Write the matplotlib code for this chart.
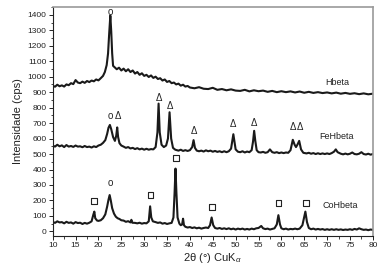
import matplotlib
matplotlib.use("Agg")
import matplotlib.pyplot as plt
from matplotlib.ticker import MultipleLocator

plt.rcParams['font.family'] = ['Liberation Sans', 'DejaVu Sans']
plt.rcParams['mathtext.fontset'] = 'custom'
plt.rcParams['mathtext.rm'] = 'Liberation Sans'
plt.rcParams['mathtext.it'] = 'Liberation Sans:italic'

# ---- data (2theta, intensity) ----
hbeta_x = [10, 10.5, 11, 11.5, 12, 12.5, 13, 13.5, 14, 14.5, 15, 15.5, 16, 16.5, 17, 17.5, 18, 18.5, 19, 19.5,
           20, 20.5, 21, 21.4, 21.8, 22.1, 22.35, 22.6, 22.8, 23.0, 23.2, 23.5, 24, 24.5, 25, 25.5, 26, 26.5,
           27, 27.5, 28, 28.5, 29, 29.5, 30, 30.5, 31, 31.5, 32, 32.5, 33, 33.5, 34, 34.5, 35, 35.5, 36, 36.5,
           37, 37.5, 38, 38.5, 39, 39.5, 40, 41, 42, 43, 44, 45, 46, 47, 48, 49, 50, 51, 52, 53, 54, 55, 56,
           57, 58, 59, 60, 61, 62, 63, 64, 65, 66, 67, 68, 69, 70, 71, 72, 73, 74, 75, 76, 77, 78, 79, 80]
hbeta_y = [942, 935, 948, 938, 944, 936, 950, 945, 958, 952, 978, 962, 958, 968, 960, 972, 965, 975, 970, 982,
           976, 990, 1005, 1030, 1075, 1150, 1280, 1395, 1290, 1150, 1070, 1062, 1048, 1058, 1040, 1052, 1035, 1048,
           1030, 1040, 1020, 1030, 1012, 1022, 1005, 1012, 998, 1008, 992, 1000, 985, 990, 975, 982, 966, 972, 958, 962,
           950, 955, 942, 948, 936, 940, 930, 925, 932, 922, 920, 928, 915, 920, 912, 918, 910, 908, 915, 905, 912, 906, 910,
           902, 908, 900, 906, 900, 905, 898, 904, 896, 902, 895, 900, 894, 898, 892, 897, 890, 895, 889, 893, 887, 892, 886, 890]

fe_x = [10, 10.5, 11, 11.5, 12, 12.5, 13, 13.5, 14, 14.5, 15, 15.5, 16, 16.5, 17, 17.5, 18, 18.5, 19, 19.5,
        20, 20.5, 21, 21.5, 21.9, 22.2, 22.5, 22.8, 23.2, 23.6, 23.9, 24.1, 24.3, 24.6, 25, 25.5, 26, 26.5, 27, 27.5,
        28, 28.5, 29, 29.5, 30, 30.5, 31, 31.5, 32, 32.5, 32.9, 33.15, 33.4, 33.8, 34.3, 34.8, 35.2, 35.55, 35.9, 36.3,
        36.8, 37.5, 38, 38.5, 39, 39.5, 40, 40.5, 40.8, 41.1, 41.5, 42, 42.5, 43, 43.5, 44, 44.5, 45, 45.5, 46, 46.5,
        47, 47.5, 48, 48.5, 49, 49.3, 49.5, 49.7, 50, 50.5, 51, 51.5, 52, 52.5, 53, 53.5, 53.8, 54.05, 54.3, 54.6, 55,
        55.5, 56, 56.5, 57, 57.5, 58, 58.5, 59, 59.5, 60, 60.5, 61, 61.5, 62, 62.5, 62.9, 63.2, 63.5, 63.9, 64.3, 64.8,
        65.5, 66, 66.5, 67, 67.5, 68, 68.5, 69, 69.5, 70, 70.5, 71, 71.5, 71.9, 72.3, 73, 73.5, 74, 74.5, 75, 75.5, 76,
        76.5, 77, 77.5, 78, 78.5, 79, 79.5, 80]
fe_y = [555, 548, 560, 550, 556, 545, 558, 548, 552, 546, 555, 548, 550, 544, 552, 545, 548, 542, 550, 545,
        555, 560, 572, 590, 630, 670, 688, 660, 610, 585, 620, 672, 610, 570, 555, 548, 540, 545, 536, 540,
        532, 538, 530, 535, 528, 534, 528, 532, 530, 545, 640, 826, 640, 560, 545, 555, 600, 770, 600, 540,
        528, 522, 528, 520, 525, 520, 525, 545, 590, 540, 522, 518, 522, 516, 524, 518, 522, 515, 520, 514, 518,
        512, 518, 512, 518, 535, 590, 628, 590, 530, 515, 512, 518, 510, 516, 512, 525, 580, 650, 585, 525, 512,
        510, 514, 508, 512, 530, 512, 508, 512, 506, 510, 506, 510, 508, 525, 592, 560, 545, 560, 585, 530, 508,
        504, 508, 502, 506, 500, 505, 500, 504, 500, 504, 500, 506, 515, 530, 512, 502, 498, 503, 498, 502, 510, 500,
        498, 502, 512, 500, 497, 502, 496, 500]

co_x = [10, 10.5, 11, 11.5, 12, 12.5, 13, 13.5, 14, 14.5, 15, 15.5, 16, 16.5, 17, 17.5, 18, 18.5, 18.9, 19.1,
        19.3, 19.7, 20, 20.5, 21, 21.5, 21.9, 22.2, 22.45, 22.7, 23, 23.4, 23.8, 24.2, 24.6, 25, 25.5, 26, 26.5, 27,
        27.2, 27.4, 28, 28.5, 29, 29.5, 30, 30.5, 31, 31.3, 31.55, 31.9, 32.5, 33, 33.5, 34, 34.5, 35, 35.5, 36,
        36.4, 36.65, 36.85, 37.05, 37.3, 37.7, 38, 38.3, 38.5, 38.7, 39, 39.5, 40, 40.5, 41, 41.5, 42, 42.5, 43,
        43.5, 44, 44.4, 44.75, 45.1, 45.5, 46, 46.5, 47, 47.5, 48, 48.5, 49, 49.5, 50, 50.5, 51, 51.5, 52, 52.5, 53,
        53.5, 54, 54.5, 55, 55.6, 56, 56.5, 57, 57.5, 58, 58.5, 59, 59.35, 59.7, 60, 60.5, 61, 61.5, 62, 62.5, 63,
        63.5, 64, 64.6, 65.25, 65.6, 66, 66.5, 67, 67.5, 68, 68.5, 69, 69.5, 70, 70.5, 71, 71.5, 72, 72.5, 73, 73.5,
        74, 74.5, 75, 75.5, 76, 76.5, 77, 77.5, 78, 78.5, 79, 79.5, 80]
co_y = [62, 55, 65, 58, 60, 52, 62, 55, 58, 50, 60, 54, 56, 48, 55, 50, 56, 65, 110, 128,
        85, 70, 68, 72, 85, 110, 160, 205, 235, 200, 150, 115, 95, 85, 80, 72, 70, 62, 66, 58,
        75, 56, 55, 52, 56, 50, 54, 52, 65, 162, 90, 65, 60, 55, 58, 50, 54, 48, 52, 55,
        90, 250, 406, 250, 90, 50, 40, 45, 82, 40, 30, 25, 28, 22, 26, 20, 24, 18, 22,
        25, 22, 40, 90, 40, 22, 18, 22, 16, 20, 15, 20, 14, 18, 12, 18, 14, 18, 12, 16, 12,
        18, 14, 20, 22, 35, 20, 15, 18, 12, 16, 20, 45, 105, 45, 20, 14, 18, 12, 16, 14, 18,
        14, 18, 40, 128, 60, 22, 14, 18, 12, 16, 12, 15, 10, 14, 10, 14, 10, 14, 10, 13, 9,
        12, 10, 14, 10, 16, 12, 20, 14, 10, 12, 8, 12, 10]

series_names = ['Hbeta', 'FeHbeta', 'CoHbeta']
label_pos = [(72.2, 963), (72.1, 615), (72.8, 170)]

o_marks = [(22.6, 1415), (22.5, 746), (22.5, 310)]
delta_marks = [(24.2, 746), (33.3, 864), (35.7, 808), (40.8, 647), (49.5, 697), (54.1, 701), (62.5, 675), (64.1, 675)]
square_x = [19.0, 31.4, 36.9, 44.8, 59.4, 65.4]
square_y = [195, 234, 475, 159, 185, 185]

x_ticks = list(range(10, 81, 5))
y_ticks = list(range(0, 1401, 100))

# ---- figure ----
fig = plt.figure(figsize=(3.82, 2.71), dpi=100)
ax = fig.add_axes([0.138, 0.129, 0.838, 0.845])

for xs, ys in [(hbeta_x, hbeta_y), (fe_x, fe_y), (co_x, co_y)]:
    ax.plot(xs, ys, color='#1a1a1a', lw=1.5, solid_joinstyle='round')

for (lx, ly), name in zip(label_pos, series_names):
    ax.text(lx, ly, name, fontsize=6.5, ha='center', va='center', color='#222222')

for mx, my in o_marks:
    ax.text(mx, my, 'o', fontsize=7, ha='center', va='center', color='#222222')
for mx, my in delta_marks:
    ax.text(mx, my, 'Δ', fontsize=7, ha='center', va='center', color='#222222')
ax.scatter(square_x, square_y, marker='s', s=16, facecolors='none', edgecolors='#222222', linewidths=0.8)

ax.set_xlim(10, 80)
ax.set_ylim(-30, 1450)
ax.set_xticks(x_ticks)
ax.set_yticks(y_ticks)
ax.xaxis.set_minor_locator(MultipleLocator(2.5))
ax.yaxis.set_minor_locator(MultipleLocator(50))
ax.tick_params(which='major', direction='out', length=3, width=0.7, labelsize=6, pad=1.5, colors='#222222')
ax.tick_params(which='minor', direction='out', length=1.8, width=0.6, colors='#222222')

for s in ['left', 'bottom']:
    ax.spines[s].set_color('#222222')
    ax.spines[s].set_linewidth(0.8)
for s in ['top', 'right']:
    ax.spines[s].set_color('#9a9a9a')
    ax.spines[s].set_linewidth(1.2)

ax.set_xlabel('2θ (°) CuK$_\\alpha$', fontsize=8, labelpad=1, color='#222222')
ax.set_ylabel('Intensidade (cps)', fontsize=8, labelpad=3, color='#222222')

fig.savefig('out.png', dpi=100)
